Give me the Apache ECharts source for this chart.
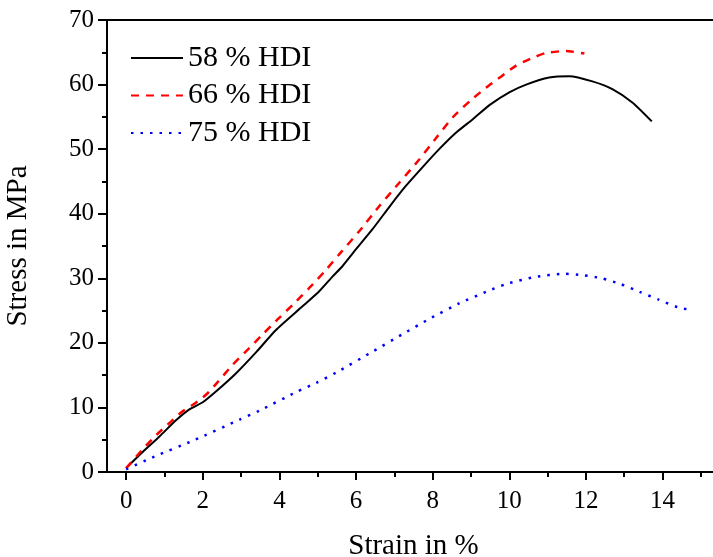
<!DOCTYPE html>
<html>
<head>
<meta charset="utf-8">
<script src="https://cdn.jsdelivr.net/npm/echarts@6/dist/echarts.min.js"></script>
<style>html,body{margin:0;padding:0;background:#fff}#c{width:713px;height:557px}</style>
</head>
<body>
<div id="c"></div>
<script>
const seriesNames = ['58 % HDI', '66 % HDI', '75 % HDI'];
const xMajorTicks = [0, 2, 4, 6, 8, 10, 12, 14];
const xMinorTicks = [1, 3, 5, 7, 9, 11, 13, 15];

const strain58 = [0, 0.45, 0.87, 1.3, 1.65, 2.0, 2.35, 2.87, 3.4, 3.91, 4.61, 5.04, 5.39, 5.65, 6.0, 6.43, 6.9, 7.3, 7.75, 8.17, 8.6, 9.04, 9.5, 10.0, 10.44, 11.04, 11.57, 12.17, 12.69, 13.22, 13.72];
const stress58 = [0.6, 3.2, 5.5, 8.0, 9.7, 10.8, 12.5, 15.3, 18.6, 22.0, 25.7, 28.0, 30.3, 31.9, 34.5, 37.6, 41.3, 44.3, 47.3, 50.0, 52.5, 54.6, 56.9, 58.8, 60.0, 61.1, 61.3, 60.5, 59.3, 57.2, 54.3];

const strain66 = [0, 0.43, 0.8, 1.17, 1.45, 1.74, 2.09, 2.4, 2.78, 3.2, 3.56, 4.0, 4.4, 4.78, 5.2, 5.56, 6.1, 6.61, 7.13, 7.65, 8.1, 8.52, 9.0, 9.39, 9.8, 10.17, 10.55, 10.96, 11.48, 11.96];
const stress66 = [0.6, 3.5, 5.8, 7.8, 9.3, 10.4, 12.0, 14.0, 16.6, 19.1, 21.3, 23.9, 26.2, 28.5, 31.2, 33.7, 37.4, 41.2, 44.8, 48.4, 51.8, 54.9, 57.6, 59.5, 61.3, 62.9, 64.0, 64.9, 65.2, 64.8];

const strain75 = [0, 0.74, 1.74, 2.96, 3.48, 4.48, 4.96, 5.48, 6.45, 7.2, 7.94, 8.69, 9.43, 9.91, 10.67, 11.42, 11.91, 12.41, 12.91, 13.4, 13.9, 14.4, 14.65];
const stress75 = [0.4, 2.4, 4.85, 8.1, 9.5, 12.5, 13.8, 15.4, 18.7, 21.3, 23.8, 26.1, 28.0, 29.1, 30.2, 30.7, 30.5, 30.0, 29.1, 27.9, 26.7, 25.5, 25.2];

const zip = (a, b) => a.map((v, i) => [v, b[i]]);
const FONT = 'Liberation Serif';

const chart = echarts.init(document.getElementById('c'), null, {renderer: 'canvas'});
chart.setOption({
  animation: false,
  backgroundColor: '#fff',
  grid: {left: 107, top: 20, width: 613, bottom: 85, containLabel: false, outerBoundsMode: 'none',
    show: true, borderColor: '#000', borderWidth: 2, backgroundColor: 'transparent'},
  legend: {
    orient: 'vertical', left: 125, top: 38, itemWidth: 52, itemHeight: 6, itemGap: 7.5,
    itemStyle: {opacity: 0},
    textStyle: {fontFamily: FONT, fontSize: 30, color: '#000'},
    data: seriesNames
  },
  xAxis: [{
    type: 'value', min: -0.5, max: 15.5,
    name: 'Strain in %', nameLocation: 'middle', nameGap: 60,
    nameTextStyle: {fontFamily: FONT, fontSize: 29, color: '#000'},
    axisLine: {onZero: false, lineStyle: {color: '#000', width: 2}},
    axisTick: {customValues: xMajorTicks, length: 8, lineStyle: {color: '#000', width: 2}},
    axisLabel: {customValues: xMajorTicks, fontFamily: FONT, fontSize: 25, color: '#000', margin: 17},
    splitLine: {show: false}
  }, {
    type: 'value', min: -0.5, max: 15.5, position: 'bottom',
    axisLine: {show: false, onZero: false},
    axisTick: {customValues: xMinorTicks, length: 5, lineStyle: {color: '#000', width: 2}},
    axisLabel: {show: false},
    splitLine: {show: false}
  }],
  yAxis: {
    type: 'value', min: 0, max: 70, interval: 10,
    name: 'Stress in MPa', nameLocation: 'middle', nameGap: 74,
    nameTextStyle: {fontFamily: FONT, fontSize: 29, color: '#000'},
    axisLine: {onZero: false, lineStyle: {color: '#000', width: 2}},
    axisTick: {length: 9, lineStyle: {color: '#000', width: 2}},
    minorTick: {show: true, splitNumber: 2, length: 5, lineStyle: {color: '#000', width: 2}},
    axisLabel: {fontFamily: FONT, fontSize: 25, color: '#000', margin: 13},
    splitLine: {show: false}
  },
  series: [{
    name: seriesNames[0], type: 'line', showSymbol: false, symbol: 'none', smooth: 0.2,
    data: zip(strain58, stress58),
    lineStyle: {color: '#000', width: 2},
    itemStyle: {color: '#000'}
  }, {
    name: seriesNames[1], type: 'line', showSymbol: false, symbol: 'none', smooth: 0.2,
    data: zip(strain66, stress66),
    lineStyle: {color: '#ff0000', width: 2.5, type: [8, 7]},
    itemStyle: {color: '#ff0000'}
  }, {
    name: seriesNames[2], type: 'line', showSymbol: false, symbol: 'none', smooth: 0.2,
    data: zip(strain75, stress75),
    lineStyle: {color: '#0000ff', width: 2.5, type: [2.5, 7]},
    itemStyle: {color: '#0000ff'}
  }]
});
</script>
</body>
</html>
